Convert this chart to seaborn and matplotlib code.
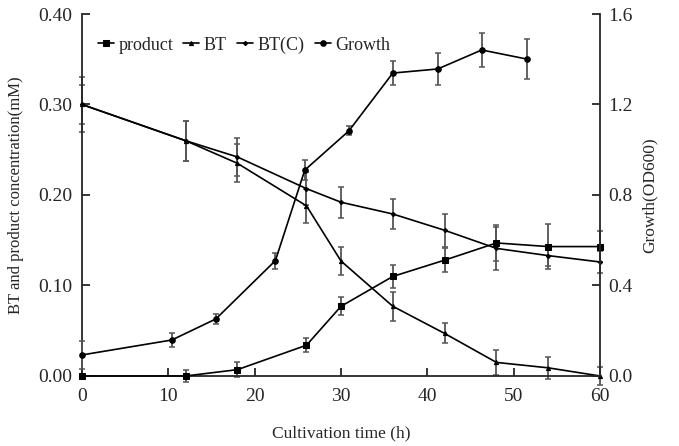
import matplotlib
matplotlib.use('Agg')

import numpy as np
import pandas as pd
import matplotlib.pyplot as plt
import seaborn as sns

# -------------------------------
# DATA
# -------------------------------

time = [0, 12, 18, 26, 30, 36, 42, 48, 54, 60]

product = [0.000, 0.000, 0.007, 0.034, 0.077, 0.110, 0.128, 0.147, 0.143, 0.143]
product_err = [0.000, 0.007, 0.008, 0.008, 0.010, 0.013, 0.013, 0.020, 0.025, 0.017]

bt = [0.300, 0.260, 0.235, 0.188, 0.127, 0.077, 0.047, 0.015, 0.009, 0.000]
bt_err = [0.022, 0.022, 0.021, 0.019, 0.015, 0.016, 0.011, 0.014, 0.012, 0.010]

bt_c = [0.300, 0.260, 0.242, 0.207, 0.192, 0.179, 0.161, 0.141, 0.133, 0.126]
bt_c_err = [0.030, 0.022, 0.021, 0.018, 0.017, 0.017, 0.018, 0.024, 0.012, 0.012]

growth_time = [0, 10.4, 15.5, 22.4, 25.8, 30.9, 36.0, 41.2, 46.3, 51.5]
growth = [0.093, 0.159, 0.252, 0.510, 0.910, 1.083, 1.339, 1.357, 1.441, 1.401]
growth_err = [0.060, 0.032, 0.022, 0.035, 0.045, 0.020, 0.053, 0.070, 0.077, 0.090]

left_ticks = [0.0, 0.1, 0.2, 0.3, 0.4]
right_ticks = [0.0, 0.4, 0.8, 1.2, 1.6]

conc = pd.DataFrame({'time': time, 'product': product, 'BT': bt, 'BT(C)': bt_c})
od = pd.DataFrame({'time': growth_time, 'growth': growth})

# -------------------------------
# STYLE
# -------------------------------

sns.set_style("ticks")
plt.rcParams['font.family'] = ['Liberation Serif', 'DejaVu Serif']
plt.rcParams['font.size'] = 13
plt.rcParams['xtick.direction'] = 'in'
plt.rcParams['ytick.direction'] = 'in'

fig = plt.figure(figsize=(6.79, 4.46), dpi=100)
ax = fig.add_axes([0.1208, 0.157, 0.7629, 0.8116])
ax2 = ax.twinx()

err_col = '#555555'
lw = 1.2

# -------------------------------
# CONCENTRATION SERIES (left axis)
# -------------------------------

series = [
    ('product', product_err, 's', 4.5),
    ('BT', bt_err, '^', 3.0),
    ('BT(C)', bt_c_err, 'D', 2.2),
]

handles = []
for name, err, mk, ms in series:
    ax.errorbar(conc['time'], conc[name], yerr=err, fmt='none',
                ecolor=err_col, elinewidth=1.3, capsize=2.3, capthick=1.1,
                clip_on=False, zorder=2)
    sns.lineplot(data=conc, x='time', y=name, ax=ax, color='black',
                 linewidth=lw, marker=mk, markersize=ms,
                 markeredgecolor='black', clip_on=False, zorder=3)
    handles.append(ax.lines[-1])

# -------------------------------
# GROWTH (right axis)
# -------------------------------

ax2.errorbar(od['time'], od['growth'], yerr=growth_err, fmt='none',
             ecolor=err_col, elinewidth=1.3, capsize=2.3, capthick=1.1,
             clip_on=False, zorder=2)
sns.lineplot(data=od, x='time', y='growth', ax=ax2, color='black',
             linewidth=lw, marker='o', markersize=4,
             markeredgecolor='black', clip_on=False, zorder=3)
handles.append(ax2.lines[-1])

# -------------------------------
# AXES
# -------------------------------

ax.set_xlim(0, 60)
ax.set_ylim(0, 0.4)
ax2.set_ylim(0, 1.6)

ax.set_xticks(range(0, 61, 10))
ax.set_yticks(left_ticks)
ax.set_yticklabels([f"{v:.2f}" for v in left_ticks])
ax2.set_yticks(right_ticks)
ax2.set_yticklabels([f"{v:.1f}" for v in right_ticks])

for a in (ax, ax2):
    a.spines['top'].set_visible(False)
    for s in a.spines.values():
        s.set_linewidth(1.3)
    a.tick_params(length=6, width=1.3, labelsize=14)

ax.tick_params(axis='y', pad=7)
ax.tick_params(axis='x', pad=9)
ax2.tick_params(axis='y', pad=6)

ax.spines['right'].set_visible(False)
ax2.spines['left'].set_visible(False)
ax2.spines['bottom'].set_visible(False)

ax.set_xlabel("Cultivation time (h)", fontsize=12.5, labelpad=14)
ax.set_ylabel("BT and product concentration(mM)", fontsize=12, labelpad=10)
ax2.set_ylabel("Growth(OD600)", fontsize=12.5, labelpad=6)

ax.legend(handles, ['product', 'BT', 'BT(C)', 'Growth'],
          loc='center left', bbox_to_anchor=(0.03, 0.914), ncol=4,
          frameon=False, handlelength=0.9, handletextpad=0.25,
          columnspacing=0.55, borderpad=0, borderaxespad=0, fontsize=13)

fig.savefig("out.png", dpi=100)
